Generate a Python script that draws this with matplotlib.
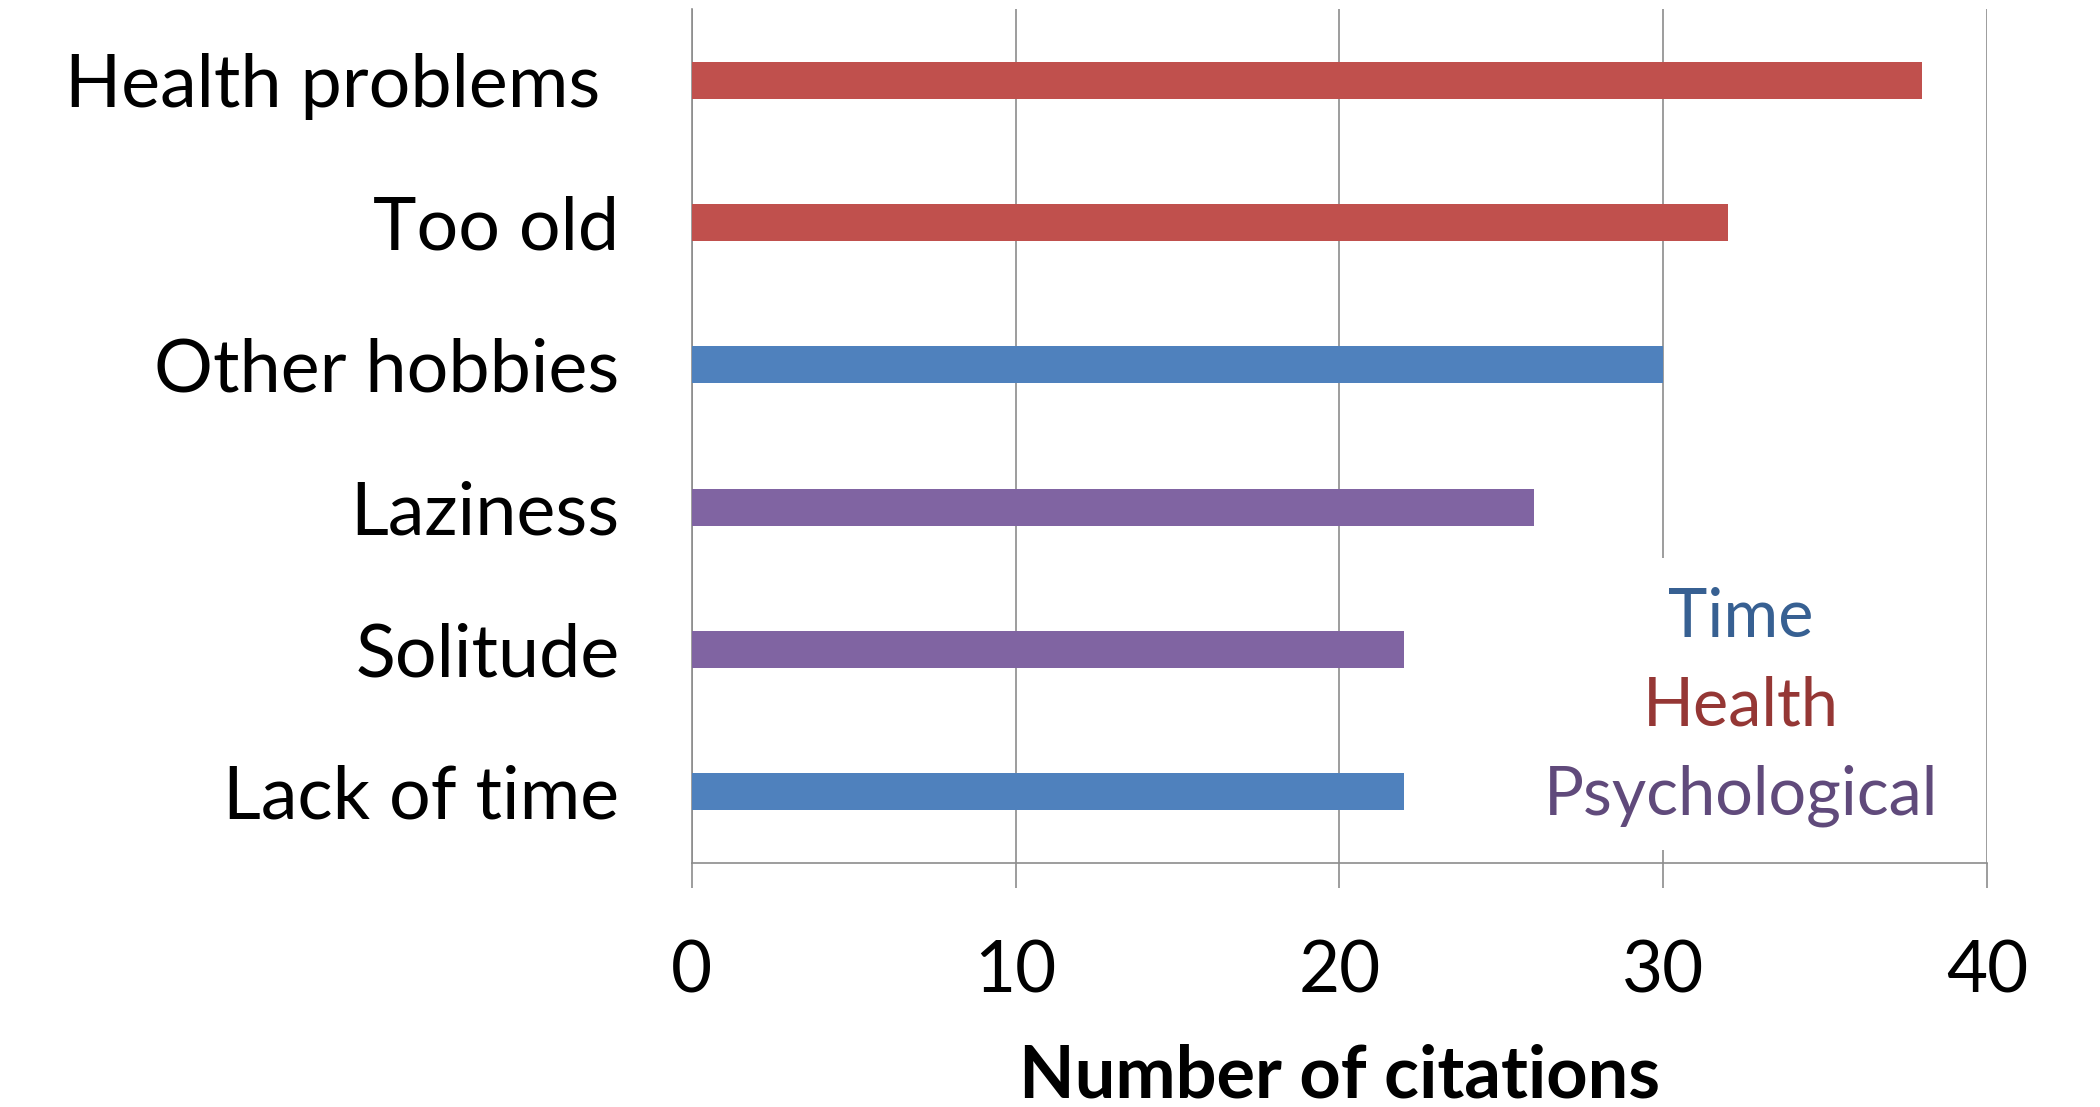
import matplotlib
matplotlib.use("Agg")
import matplotlib.pyplot as plt
from matplotlib.patches import Rectangle

# Reasons cited, listed top to bottom
reasons = ["Health problems ", "Too old", "Other hobbies", "Laziness", "Solitude", "Lack of time"]
citations = [38, 32, 30, 26, 22, 22]
groups = ["Health", "Health", "Time", "Psychological", "Psychological", "Time"]

x_ticks = [0, 10, 20, 30, 40]
x_label = "Number of citations"

bar_colors = {"Time": "#4F81BD", "Health": "#C0504D", "Psychological": "#8064A2"}
legend_colors = {"Time": "#376092", "Health": "#953735", "Psychological": "#604A7B"}
legend_order = ["Time", "Health", "Psychological"]

plt.rcParams["font.family"] = ["Lato", "DejaVu Sans"]

fig = plt.figure(figsize=(21, 11.07), dpi=100)
ax = fig.add_axes([0.3294, 0.2204, 0.6168, 0.7715])

ypos = list(range(len(reasons)))
ax.barh(ypos, citations, height=0.26,
        color=[bar_colors[g] for g in groups], zorder=3)

ax.set_xlim(0, 40)
ax.set_ylim(len(reasons) - 0.5, -0.5)
ax.set_xticks(x_ticks)
ax.set_yticks(ypos)
ax.set_yticklabels(reasons)

grid_color = "#8C8C8C"
ax.xaxis.grid(True, color=grid_color, linewidth=1.2, zorder=0)
ax.set_axisbelow(True)
for side in ["top", "right"]:
    ax.spines[side].set_visible(False)
for side in ["left", "bottom"]:
    ax.spines[side].set_color(grid_color)
    ax.spines[side].set_linewidth(1.2)

ax.tick_params(axis="y", length=0, pad=52, labelsize=53)
ax.tick_params(axis="x", length=18, width=1.2, color=grid_color,
               pad=37, labelsize=51)
ax.set_xlabel(x_label, fontsize=52, fontweight="bold", labelpad=28)

# White panel behind the colour key so grid lines stop around it
ax.add_patch(Rectangle((0.655, 0.015), 0.24, 0.342, transform=ax.transAxes,
                       facecolor="white", edgecolor="none", zorder=4))

# Colour key for the three groups
key_x = 32.4
key_y = [3.78, 4.40, 5.03]
for name, y in zip(legend_order, key_y):
    ax.text(key_x, y, name, color=legend_colors[name], fontsize=48,
            ha="center", va="center", zorder=5)

fig.savefig("out.png", dpi=100, facecolor="white")
